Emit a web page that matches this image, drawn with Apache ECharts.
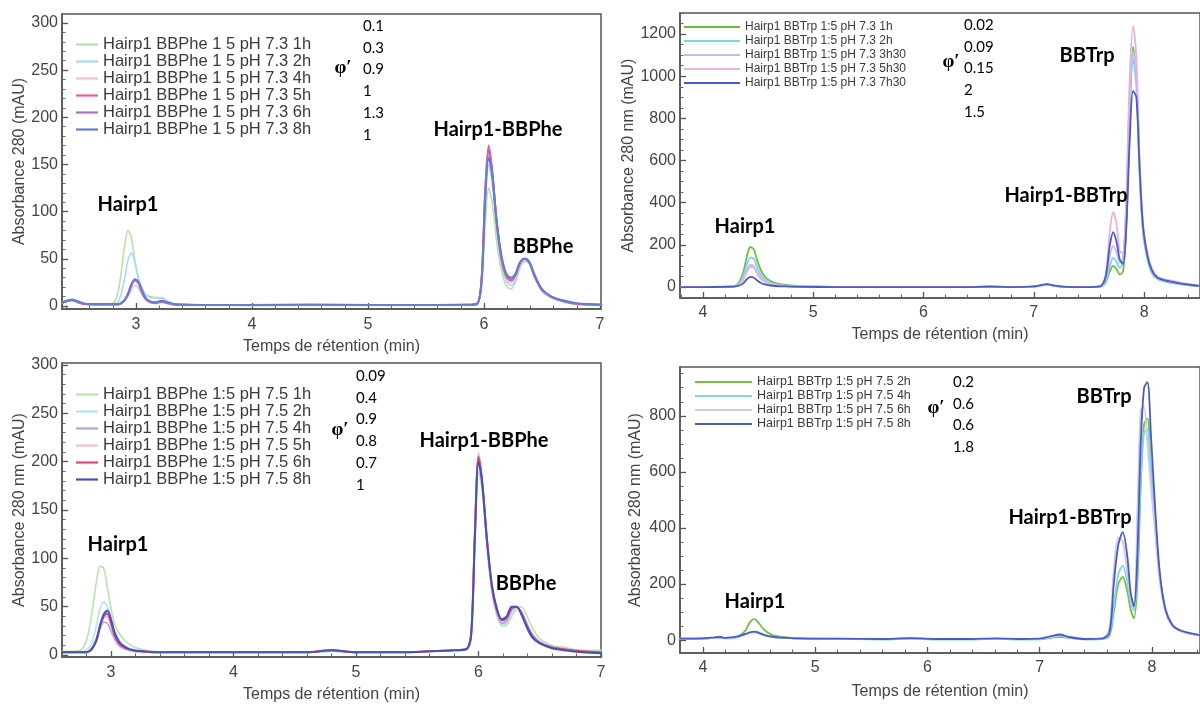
<!DOCTYPE html>
<html><head><meta charset="utf-8">
<script src="https://cdn.jsdelivr.net/npm/echarts@6/dist/echarts.min.js"></script>
<style>html,body{margin:0;padding:0;background:#fff}#c{width:1200px;height:704px}</style>
</head><body><div id="c"></div>
<script>
// ---------- Panel 1 : Hairp1 BBPhe pH 7.3 ----------
const p1X = [2.36,2.40,2.45,2.50,2.56,2.65,2.75,2.82,2.86,2.90,2.93,2.96,2.99,3.02,3.05,3.08,3.12,3.17,3.22,3.27,3.33,
  3.45,3.70,4.00,4.50,5.00,5.50,5.85,
  5.94,5.98,6.01,6.04,6.07,6.11,6.15,6.19,6.23,6.27,6.31,6.35,6.39,6.44,6.50,6.58,6.68,6.80,7.02];
const p1Names = ['Hairp1 BBPhe 1 5 pH 7.3 1h','Hairp1 BBPhe 1 5 pH 7.3 2h','Hairp1 BBPhe 1 5 pH 7.3 4h','Hairp1 BBPhe 1 5 pH 7.3 5h','Hairp1 BBPhe 1 5 pH 7.3 6h','Hairp1 BBPhe 1 5 pH 7.3 8h'];
const p1_1h = [3,5,6,4,2,1.5,1.5,5,25,62,80,72,48,30,20,13,10,9,9,5,2, 1,1,0.5,1,1,1,1, 2,20,85,125,110,68,38,22,18,25,40,47,46,30,16,9,5,2,1];
const p1_2h = [3,5,6,4,2,1.5,1.5,2,8,28,48,56,46,30,19,12,9,8.5,8.5,5,2, 1,1,0.5,1,1,1,1, 2,25,105,150,130,80,45,27,22,27,42,49,46,30,16,9,5,2,1];
const p1_4h = [3,5,6,4,2,1.5,1.5,1.5,2,5,10,17,22,19,12,7,4,3,4,3,1.5, 1,1,0.5,1,1,1,1, 2,28,115,160,140,85,48,30,25,30,44,50,46,30,17,9,5,2,1];
const p1_5h = [3,5,6,4,2,1.5,1.5,1.5,2,6,12,22,27,24,15,8,4,3,4.5,3,1.5, 1,1,1,1,1,1,1, 2,30,120,170,145,88,50,32,27,32,45,50,46,30,17,10,5,2,1];
const p1_6h = [3,5,6,4,2,1.5,1.5,1.5,2,6,13,23,28,25,16,8,4.5,3.5,5,3.5,1.5, 1,1,1,1,1,1,1, 2,29,118,165,143,88,52,33,28,33,46,50,46,31,17,10,5.5,2.5,1];
const p1_8h = [3.5,5.5,7,5,2.5,2,2,2,2.5,6,12,22,28,26,17,9,5,4,5.5,4,2, 1.5,1,1,1.5,1,1,1.5, 2.5,28,112,157,140,90,54,35,30,34,46,50,47,32,18,10,6,3,1.5];
const p1Phi = ['0.1','0.3','0.9','1','1.3','1'];

// ---------- Panel 2 : Hairp1 BBTrp pH 7.3 ----------
const p2X = [3.8,4.0,4.2,4.3,4.36,4.40,4.43,4.46,4.49,4.53,4.58,4.65,4.75,4.9,
  5.2,5.6,6.0,6.4,6.6,6.8,7.0,7.07,7.12,7.18,7.3,7.5,7.6,
  7.65,7.69,7.72,7.75,7.78,7.81,7.84,7.87,7.90,7.93,7.96,7.99,8.03,8.07,8.12,8.2,8.3,8.4,8.5];
const p2Names = ['Hairp1 BBTrp 1:5 pH 7.3 1h','Hairp1 BBTrp 1:5 pH 7.3 2h','Hairp1 BBTrp 1:5 pH 7.3 3h30','Hairp1 BBTrp 1:5 pH 7.3 5h30','Hairp1 BBTrp 1:5 pH 7.3 7h30'];
const p2_1h   = [0,0,2,8,60,150,190,180,130,75,40,20,10,4, 1,0,0,0,3,0,2,8,12,6,1,0,2, 20,75,100,85,60,75,300,800,1140,1000,550,280,140,70,40,25,18,10,5];
const p2_2h   = [0,0,2,6,45,110,140,135,95,55,30,15,7,3, 1,0,0,0,2,0,2,8,12,6,1,0,2, 25,100,140,120,90,120,400,900,1080,950,520,260,130,65,38,25,15,8,4];
const p2_3h30 = [0,0,2,5,35,85,105,100,72,40,22,12,5,2, 1,0,0,0,2,0,2,8,12,6,1,0,3, 35,150,195,165,115,140,420,900,1120,1010,560,290,150,80,45,30,20,10,5];
const p2_5h30 = [0,0,2,5,30,75,95,92,65,36,20,10,5,2, 1,0,0,0,2,0,2,8,12,6,1,0,4, 55,270,355,300,170,160,450,1000,1240,1090,600,300,160,90,50,35,25,12,6];
const p2_7h30 = [0,0,1,3,15,38,48,45,32,18,10,5,3,1, 0,0,0,0,2,0,3,10,14,8,1,0,3, 45,200,260,215,130,110,300,700,930,900,560,290,150,80,45,30,20,12,6];
const p2Phi = ['0.02','0.09','0.15','2','1.5'];

// ---------- Panel 3 : Hairp1 BBPhe pH 7.5 ----------
const p3X = [2.6,2.7,2.76,2.8,2.84,2.88,2.91,2.94,2.97,3.0,3.03,3.07,3.12,3.18,3.25,3.35,
  3.5,3.8,4.2,4.6,4.8,5.0,5.4,5.8,5.9,
  5.94,5.97,6.0,6.03,6.07,6.11,6.15,6.19,6.23,6.27,6.31,6.35,6.39,6.44,6.5,6.6,6.7,6.85,7.0];
const p3Names = ['Hairp1 BBPhe 1:5 pH 7.5 1h','Hairp1 BBPhe 1:5 pH 7.5 2h','Hairp1 BBPhe 1:5 pH 7.5 4h','Hairp1 BBPhe 1:5 pH 7.5 5h','Hairp1 BBPhe 1:5 pH 7.5 6h','Hairp1 BBPhe 1:5 pH 7.5 8h'];
const p3_1h = [4,4,6,15,40,75,92,90,70,48,32,22,14,9,6,4, 3,3,3,3,4,3,3,5,6, 20,110,190,170,110,65,40,30,31,40,48,50,42,28,17,10,8,5,5];
const p3_2h = [3,3,3,5,12,30,48,55,50,38,25,15,9,6,4,3, 3,3,3,3,4,3,3,5,6, 25,130,210,180,115,65,42,32,33,44,49,45,35,22,14,8,6,4,3];
const p3_4h = [3,3,3,3,5,14,26,34,33,25,16,9,6,4,3,3, 3,3,3,3,4,3,3,5,6, 22,125,205,178,115,68,44,33,35,47,50,44,33,21,13,8,6,4,3];
const p3_5h = [3,3,3,3,5,15,28,38,40,30,18,10,6,4,3,3, 3,3,3,3,4,3,3,5,6, 22,128,208,180,116,68,45,35,37,48,50,44,32,20,13,8,6,4,3];
const p3_6h = [3,3,3,3,6,16,30,40,43,33,20,11,7,5,4,3, 3,3,3,3,5,3,3,5,6, 22,125,205,180,118,70,46,36,38,48,50,44,32,20,13,8,6,4,3];
const p3_8h = [3,3,3,3,6,15,30,42,46,37,23,13,8,5,4,3, 3,3,3,3,5,3,3,5,6, 20,120,200,178,118,72,48,37,40,50,50,42,30,18,12,7,5,3,2];
const p3Phi = ['0.09','0.4','0.9','0.8','0.7','1'];

// ---------- Panel 4 : Hairp1 BBTrp pH 7.5 ----------
const p4X = [3.8,4.0,4.1,4.15,4.2,4.3,4.38,4.42,4.46,4.5,4.55,4.62,4.7,4.85,
  5.2,5.6,5.85,6.1,6.4,6.62,6.8,7.0,7.1,7.18,7.25,7.4,7.55,
  7.62,7.66,7.7,7.74,7.78,7.81,7.84,7.87,7.9,7.93,7.96,7.99,8.03,8.07,8.12,8.18,8.25,8.35,8.46];
const p4Names = ['Hairp1 BBTrp 1:5 pH 7.5 2h','Hairp1 BBTrp 1:5 pH 7.5 4h','Hairp1 BBTrp 1:5 pH 7.5 6h','Hairp1 BBTrp 1:5 pH 7.5 8h'];
const p4_2h = [5,5,8,8,6,10,35,65,75,60,35,18,12,6, 4,3,5,3,3,4,3,3,8,12,8,3,4, 15,100,200,225,175,110,78,200,550,770,790,620,420,230,110,55,35,22,15];
const p4_4h = [4,5,8,9,7,10,20,26,28,24,17,12,9,6, 4,3,5,3,3,4,3,4,10,16,10,3,4, 20,120,235,265,210,140,105,250,580,740,750,600,400,220,105,52,33,22,15];
const p4_6h = [5,6,9,10,8,11,22,28,30,26,18,12,9,6, 5,4,6,4,4,5,4,5,12,18,11,4,5, 40,250,365,350,240,150,120,450,820,830,700,550,380,210,100,50,32,22,15];
const p4_8h = [5,6,10,12,8,12,22,28,30,26,18,12,9,6, 5,4,7,4,4,6,4,5,14,20,12,4,5, 25,200,340,385,300,170,120,300,700,900,920,740,460,240,110,55,35,24,15];
const p4Phi = ['0.2','0.6','0.6','1.8'];

// tick values
const phTicksX = [3,4,5,6,7];
const trpTicksX = [4,5,6,7,8];
const pheTicksY = [0,50,100,150,200,250,300];
const trp73TicksY = [0,200,400,600,800,1000,1200];
const trp75TicksY = [0,200,400,600,800];

// ---------- build ----------
function steps(a, b, s, skip) {
  const out = [];
  for (let k = Math.ceil(a / s - 1e-9); k * s <= b + 1e-9; k++) {
    const v = +(k * s).toFixed(4);
    if (!skip.some(m => Math.abs(m - v) < 1e-6)) out.push(v);
  }
  return out;
}
const AX = '#555', TXT = '#444', FONT = '"Liberation Sans", Arial, sans-serif';

const panels = [
  {grid:{left:62,top:14,width:539,height:295}, x:[2.362,7.009], y:[-3.2,309.5], xt:phTicksX, yt:pheTicksY, xm:0.2, ym:10,
   yname:'Absorbance 280 (mAU)', ygap:32, xlm:8, xgap:30,
   X:p1X, names:p1Names, ys:[p1_1h,p1_2h,p1_4h,p1_5h,p1_6h,p1_8h],
   colors:['#b9e0a5','#a9d9f5','#f7bdd6','#ec5e98','#b46cc4','#5f7fd0'], widths:[1.6,1.6,1.6,2,2,2],
   legend:{left:76, top:36, itemWidth:22, fontSize:16.5, icon:'path://M0,0H22V2.2H0Z'}},
  {grid:{left:680,top:13,width:522,height:285}, x:[3.792,8.507], y:[-52,1300], xt:trpTicksX, yt:trp73TicksY, xm:0.2, ym:50,
   yname:'Absorbance 280 nm (mAU)', ygap:42, xlm:7, xgap:29,
   X:p2X, names:p2Names, ys:[p2_1h,p2_2h,p2_3h30,p2_5h30,p2_7h30],
   colors:['#6cbf3e','#7dd3ea','#c5bde9','#e9b0e2','#4a5cc4'], widths:[1.8,1.8,1.8,1.8,1.8],
   legend:{left:684, top:20, itemWidth:56, fontSize:12, icon:'path://M0,0H56V1.8H0Z'}},
  {grid:{left:62,top:363,width:539,height:296}, x:[2.6,7.0], y:[-2,302], xt:phTicksX, yt:pheTicksY, xm:0.2, ym:10,
   yname:'Absorbance 280 nm (mAU)', ygap:34, xlm:8, xgap:30,
   X:p3X, names:p3Names, ys:[p3_1h,p3_2h,p3_4h,p3_5h,p3_6h,p3_8h],
   colors:['#bde3ac','#b3e6f2','#a9a9e2','#f7bcd0','#e8437d','#4353bd'], widths:[1.6,1.6,1.6,1.6,2,2],
   legend:{left:76, top:386, itemWidth:22, fontSize:16.5, icon:'path://M0,0H22V2.2H0Z'}},
  {grid:{left:680,top:367,width:522,height:286}, x:[3.796,8.428], y:[-46,974], xt:trpTicksX, yt:trp75TicksY, xm:0.2, ym:50,
   yname:'Absorbance 280 nm (mAU)', ygap:36, xlm:7, xgap:31,
   X:p4X, names:p4Names, ys:[p4_2h,p4_4h,p4_6h,p4_8h],
   colors:['#72c142','#84d5ea','#cdc9ee','#4a5ac8'], widths:[1.8,1.8,1.8,1.8],
   legend:{left:695, top:375, itemWidth:57, fontSize:12.5, icon:'path://M0,0H57V1.8H0Z'}}
];

const option = {backgroundColor:'#fff', animation:false, grid:[], xAxis:[], yAxis:[], series:[], legend:[], graphic:[]};
panels.forEach((p, gi) => {
  option.grid.push(Object.assign({show:true, borderColor:AX, borderWidth:1.5, backgroundColor:'transparent'}, p.grid));
  option.xAxis.push({gridIndex:gi, type:'value', position:'bottom', min:p.x[0], max:p.x[1],
    name:'Temps de rétention (min)', nameLocation:'middle', nameGap:p.xgap,
    nameTextStyle:{color:TXT, fontSize:16, fontFamily:FONT},
    axisLine:{show:true, onZero:false, lineStyle:{color:AX, width:1.5}},
    axisTick:{show:true, inside:true, length:6, customValues:p.xt, lineStyle:{color:AX, width:1.3}},
    axisLabel:{show:true, customValues:p.xt, margin:p.xlm, color:TXT, fontSize:16, fontFamily:FONT, formatter:v => String(v)},
    splitLine:{show:false}});
  option.xAxis.push({gridIndex:gi, type:'value', position:'bottom', min:p.x[0], max:p.x[1],
    axisLine:{show:false, onZero:false}, axisLabel:{show:false}, splitLine:{show:false},
    axisTick:{show:true, inside:true, length:3.5, customValues:steps(p.x[0], p.x[1], p.xm, p.xt), lineStyle:{color:'#666', width:1}}});
  option.yAxis.push({gridIndex:gi, type:'value', position:'left', min:p.y[0], max:p.y[1],
    name:p.yname, nameLocation:'middle', nameGap:p.ygap, nameRotate:90,
    nameTextStyle:{color:TXT, fontSize:16, fontFamily:FONT},
    axisLine:{show:true, onZero:false, lineStyle:{color:AX, width:1.5}},
    axisTick:{show:true, inside:true, length:6, customValues:p.yt, lineStyle:{color:AX, width:1.3}},
    axisLabel:{show:true, customValues:p.yt, margin:4, color:TXT, fontSize:16, fontFamily:FONT, formatter:v => String(v)},
    splitLine:{show:false}});
  option.yAxis.push({gridIndex:gi, type:'value', position:'left', min:p.y[0], max:p.y[1],
    axisLine:{show:false, onZero:false}, axisLabel:{show:false}, splitLine:{show:false},
    axisTick:{show:true, inside:true, length:3.5, customValues:steps(p.y[0], p.y[1], p.ym, p.yt), lineStyle:{color:'#666', width:1}}});
  p.names.forEach((nm, si) => {
    option.series.push({type:'line', name:nm, xAxisIndex:gi*2, yAxisIndex:gi*2,
      data:p.X.map((t, i) => [t, p.ys[si][i]]),
      symbol:'none', smooth:0.3, clip:true,
      lineStyle:{color:p.colors[si], width:p.widths[si], join:'round', cap:'round'}, itemStyle:{color:p.colors[si]}});
  });
  option.legend.push({data:p.names, orient:'vertical', left:p.legend.left, top:p.legend.top, padding:0,
    icon:p.legend.icon, itemGap:0, itemWidth:p.legend.itemWidth, itemHeight:14, selectedMode:false,
    textStyle:{color:'#3a3a3a', fontSize:p.legend.fontSize, lineHeight:14, fontFamily:FONT}});
});

// annotations (text)
function txt(x, y, s, font, align) {
  return {type:'text', x:x, y:y, silent:true, z:100,
    style:{text:s, font:font, fill:'#000', align:align||'center', textAlign:align||'center', verticalAlign:'middle', textVerticalAlign:'middle'}};
}
const PEAK = 'bold 20px Lato, "Open Sans", sans-serif';
const PHIV = '15px Lato, "Open Sans", sans-serif';
const PHI = 'bold 19px "Liberation Serif", "DejaVu Serif", serif';
const peakLabels = [
  [128,205,'Hairp1'],[498,130,'Hairp1-BBPhe'],[543,247,'BBPhe'],
  [745,227,'Hairp1'],[1066,196,'Hairp1-BBTrp'],[1087,56,'BBTrp'],
  [118,545,'Hairp1'],[484,441,'Hairp1-BBPhe'],[526,584,'BBPhe'],
  [755,602,'Hairp1'],[1070,518,'Hairp1-BBTrp'],[1104,397,'BBTrp']
];
peakLabels.forEach(a => option.graphic.push(txt(a[0], a[1], a[2], PEAK)));
const phiBlocks = [
  {px:343, py:68, vx:363, vy:26, vals:p1Phi},
  {px:951, py:62, vx:964, vy:25, vals:p2Phi},
  {px:340, py:430, vx:356, vy:376, vals:p3Phi},
  {px:936, py:408, vx:953, vy:382, vals:p4Phi}
];
phiBlocks.forEach(b => {
  option.graphic.push(txt(b.px, b.py, 'φ′', PHI));
  b.vals.forEach((v, i) => option.graphic.push(txt(b.vx, b.vy + i * 21.8, v, PHIV, 'left')));
});

const chart = echarts.init(document.getElementById('c'), null, {renderer:'canvas'});
chart.setOption(option);
</script></body></html>
